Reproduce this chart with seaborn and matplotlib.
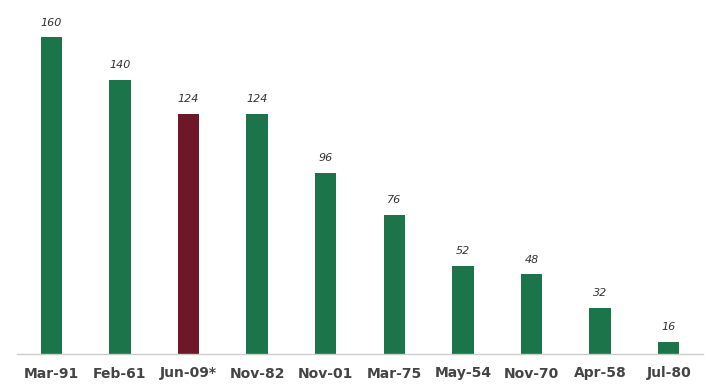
import matplotlib
matplotlib.use("Agg")
import matplotlib.pyplot as plt
import seaborn as sns
import pandas as pd

categories = ["Mar-91", "Feb-61", "Jun-09*", "Nov-82", "Nov-01", "Mar-75", "May-54", "Nov-70", "Apr-58", "Jul-80"]
values = [160, 140, 124, 124, 96, 76, 52, 48, 32, 16]
highlight = ["no", "no", "yes", "no", "no", "no", "no", "no", "no", "no"]

df = pd.DataFrame({"cat": categories, "val": values, "hl": highlight})

sns.set_style("white")
plt.rcParams['font.family'] = ['DejaVu Sans']

fig = plt.figure(figsize=(7.2, 3.89), dpi=100)
ax = fig.add_axes([17/720, 1 - 354/389, 686/720, 342/389])

sns.barplot(data=df, x="cat", y="val", hue="hl", order=categories,
            palette={"no": "#1b744a", "yes": "#6e1727"}, width=0.31,
            dodge=False, legend=False, ax=ax, saturation=1, linewidth=0)

ax.set_ylim(10.3, 172)
ax.set_xlim(-0.5, 9.5)
for i, v in enumerate(values):
    ax.annotate(str(v), (i, v), xytext=(0, 7), textcoords="offset points",
                ha="center", va="bottom", fontsize=8, style="italic", color="#333333")

ax.set_xlabel("")
ax.set_ylabel("")
ax.set_yticks([])
ax.tick_params(axis="x", length=0, pad=9)
for lab in ax.get_xticklabels():
    lab.set_fontweight("bold")
    lab.set_fontsize(10)
    lab.set_color("#444444")
for s in ["top", "right", "left"]:
    ax.spines[s].set_visible(False)
ax.spines["bottom"].set_color("#cccccc")
ax.spines["bottom"].set_linewidth(1)

fig.savefig("out.png", dpi=100)
